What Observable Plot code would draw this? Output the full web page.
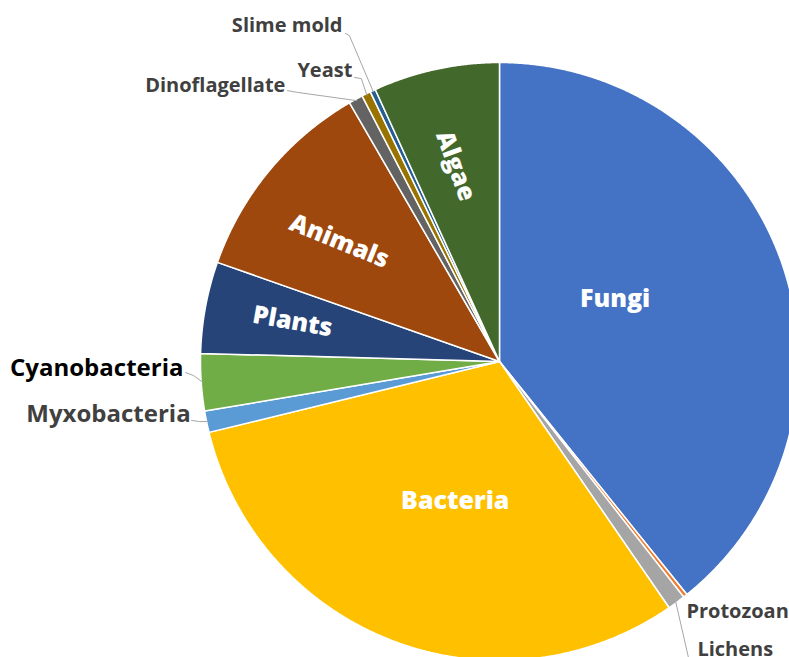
<!DOCTYPE html>
<html><head><meta charset="utf-8">
<script src="https://cdn.jsdelivr.net/npm/d3@7"></script>
<script src="https://cdn.jsdelivr.net/npm/@observablehq/plot@0.6"></script>
<style>body{margin:0;background:#fff;overflow:hidden;}</style>
</head><body><div id="chart"></div>
<script>
// ---- data ----
const categories = ["Fungi","Protozoan","Lichens","Bacteria","Myxobacteria","Cyanobacteria","Plants","Animals","Dinoflagellate","Yeast","Slime mold","Algae"];
const shares = [39.22,0.22,0.96,30.79,1.16,3.08,4.95,11.26,0.76,0.49,0.29,6.82];
const colors = ["#4472C4","#ED7D31","#A5A5A5","#FFC000","#5B9BD5","#70AD47","#264478","#9E480E","#636363","#997300","#255E91","#43682B"];
const insideNames = ["Fungi","Bacteria","Plants","Animals","Algae"];
const outsideNames = ["Slime mold","Yeast","Dinoflagellate","Cyanobacteria","Myxobacteria","Protozoan","Lichens"];

// ---- layout (pie radius units, y up) ----
const insideLayout = {
  Fungi:{a:61.5,r:0.44,rot:0}, Bacteria:{a:197.6,r:0.49,rot:0},
  Plants:{a:280.9,r:0.705,rot:10}, Animals:{a:306.9,r:0.67,rot:22}, Algae:{a:347.35,r:0.67,rot:70}
};
const outsideLayout = {
  "Slime mold":{tx:-0.525,ty:1.124,anchor:"end",size:20,color:"#404040",ax:-0.515,ay:1.097,ex:-0.502,ey:1.090,lead:true},
  "Yeast":{tx:-0.492,ty:0.973,anchor:"end",size:20,color:"#404040",ax:-0.485,ay:0.950,ex:-0.462,ey:0.946,lead:true},
  "Dinoflagellate":{tx:-0.716,ty:0.923,anchor:"end",size:20,color:"#404040",ax:-0.709,ay:0.906,ex:-0.676,ey:0.900,lead:true},
  "Cyanobacteria":{tx:-1.057,ty:-0.023,anchor:"end",size:24,color:"#000000",ax:-1.050,ay:-0.037,ex:-1.023,ey:-0.047,lead:true},
  "Myxobacteria":{tx:-1.033,ty:-0.177,anchor:"end",size:24,color:"#404040",ax:-1.030,ay:-0.197,ex:-1.003,ey:-0.201,lead:true},
  "Protozoan":{tx:0.625,ty:-0.836,anchor:"start",size:20,color:"#404040",lead:false},
  "Lichens":{tx:0.662,ty:-0.963,anchor:"start",size:20,color:"#404040",ax:0.632,ay:-0.990,ex:0.632,ey:-0.990,lead:true}
};

// ---- geometry from data ----
const total = d3.sum(shares);
const slices = [];
let acc = 0;
categories.forEach((c,i)=>{
  const a0 = acc/total*360; acc += shares[i]; const a1 = acc/total*360;
  slices.push({cat:c,a0,a1,mid:(a0+a1)/2});
});
const rad = d => d*Math.PI/180;
const polar = (a,r) => [Math.sin(rad(a))*r, Math.cos(rad(a))*r];
const slicePts = [];
slices.forEach(s=>{
  slicePts.push({cat:s.cat,x:0,y:0});
  const n = Math.max(2, Math.ceil((s.a1-s.a0)/0.25));
  for(let k=0;k<=n;k++){
    const a = s.a0 + (s.a1-s.a0)*k/n;
    const [x,y] = polar(a,1);
    slicePts.push({cat:s.cat,x,y});
  }
});
const byCat = Object.fromEntries(slices.map(s=>[s.cat,s]));
const inside = insideNames.map(n=>{const L=insideLayout[n];const [x,y]=polar(L.a,L.r);return {text:n,x,y,rot:L.rot};});
const outside = outsideNames.map(n=>{const L=outsideLayout[n];return {text:n,x:L.tx,y:L.ty,anchor:L.anchor,size:L.size,color:L.color};});
const leaders = [];
outsideNames.forEach(n=>{
  const L=outsideLayout[n]; if(!L.lead) return;
  const [x,y]=polar(byCat[n].mid,0.995);
  leaders.push({cat:n,x:L.ax,y:L.ay},{cat:n,x:L.ex,y:L.ey},{cat:n,x,y});
});

const font = "'Open Sans', 'Noto Sans', sans-serif";
const outsideMarks = outside.map(d=>Plot.text([d],{x:"x",y:"y",text:"text",textAnchor:d.anchor,fill:d.color,fontSize:d.size,fontWeight:700,fontFamily:font}));
const chart = Plot.plot({
  width:789, height:657, margin:0,
  x:{domain:[-1,1], range:[200,798], axis:null},
  y:{domain:[-1,1], range:[660,62], axis:null},
  color:{domain:categories, range:colors},
  style:{fontFamily:font, background:"white"},
  marks:[
    Plot.line(slicePts,{x:"x",y:"y",z:"cat",fill:"cat",stroke:"white",strokeWidth:1.5,strokeLinejoin:"round",curve:"linear-closed"}),
    Plot.line(leaders,{x:"x",y:"y",z:"cat",stroke:"#a6a6a6",strokeWidth:1}),
    Plot.text(inside,{x:"x",y:"y",text:"text",rotate:"rot",fill:"white",fontSize:25,fontWeight:800,fontFamily:font}),
    ...outsideMarks
  ]
});
document.getElementById("chart").appendChild(chart);
</script></body></html>
